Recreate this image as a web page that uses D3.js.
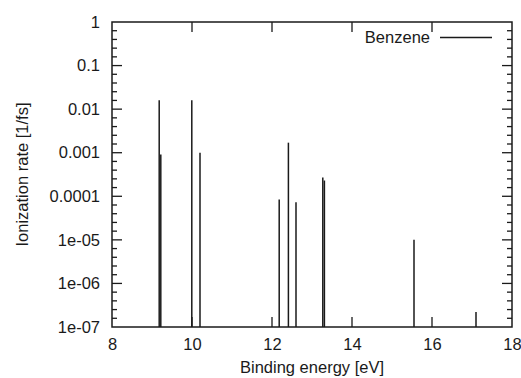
<!DOCTYPE html>
<html>
<head>
<meta charset="utf-8">
<script src="https://cdn.jsdelivr.net/npm/d3@7"></script>
<style>
  body { margin: 0; background: #fff; }
  text { font-family: "Liberation Sans", Arial, sans-serif; fill: #1a1a1a; }
</style>
</head>
<body>
<div class="chart"></div>
<script>
// 데이터
const energies = [9.18, 9.22, 9.995, 10.2, 12.18, 12.41, 12.6, 13.27, 13.31, 15.55, 17.1];
const rates = [0.016, 0.00091, 0.016, 0.001, 8.4e-5, 0.0017, 7.3e-5, 2.7e-4, 2.3e-4, 1.0e-5, 2.2e-7];
const xTicks = [8, 10, 12, 14, 16, 18];
const yTicks = [1, 0.1, 0.01, 0.001, 0.0001, 1e-5, 1e-6, 1e-7];
const yTickLabels = ["1", "0.1", "0.01", "0.001", "0.0001", "1e-05", "1e-06", "1e-07"];
const seriesName = "Benzene";

const W = 521, H = 378;
const Margin = {top: 22, bottom: 51, left: 112, right: 9};
const ink = "#1a1a1a";

const svg = d3.select(".chart").append("svg")
  .attr("width", W)
  .attr("height", H);

const x = d3.scaleLinear().domain([8, 18]).range([Margin.left, W - Margin.right]);
const y = d3.scaleLog().domain([1e-7, 1]).range([H - Margin.bottom, Margin.top]);

// 보조 눈금 (한 decade 를 5등분)
const minor = [];
for (let k = -7; k < 0; k++) {
  [0.2, 0.4, 0.6, 0.8].forEach(f => minor.push(Math.pow(10, k + f)));
}

const fs = "16.5px";

// 아래/왼쪽 축
const xAxis = d3.axisBottom(x).tickValues(xTicks).tickSize(0).tickPadding(11).tickFormat(d3.format("d"));
svg.append("g")
  .attr("transform", `translate(0,${H - Margin.bottom})`)
  .call(xAxis)
  .call(g => g.select(".domain").remove())
  .call(g => g.selectAll("text").style("font-size", fs).attr("fill", ink));

const yAxis = d3.axisLeft(y).tickValues(yTicks).tickSize(0).tickPadding(12)
  .tickFormat((d, i) => yTickLabels[i]);
svg.append("g")
  .attr("transform", `translate(${Margin.left},0)`)
  .call(yAxis)
  .call(g => g.select(".domain").remove())
  .call(g => g.selectAll("text").style("font-size", fs).attr("fill", ink));

// 눈금 선 (gnuplot 처럼 네 변 모두)
const tk = svg.append("g").attr("stroke", ink).attr("stroke-width", 1.3);
const x0 = Margin.left, x1 = W - Margin.right, y0 = H - Margin.bottom, y1 = Margin.top;
xTicks.slice(1, -1).forEach(v => {
  tk.append("line").attr("x1", x(v)).attr("x2", x(v)).attr("y1", y0).attr("y2", y0 - 10);
  tk.append("line").attr("x1", x(v)).attr("x2", x(v)).attr("y1", y1).attr("y2", y1 + 10);
});
yTicks.slice(1, -1).forEach(v => {
  tk.append("line").attr("x1", x0).attr("x2", x0 + 10).attr("y1", y(v)).attr("y2", y(v));
  tk.append("line").attr("x1", x1).attr("x2", x1 - 10).attr("y1", y(v)).attr("y2", y(v));
});
minor.forEach(v => {
  tk.append("line").attr("x1", x0).attr("x2", x0 + 5).attr("y1", y(v)).attr("y2", y(v));
  tk.append("line").attr("x1", x1).attr("x2", x1 - 5).attr("y1", y(v)).attr("y2", y(v));
});

// 막대 (impulses)
svg.append("g")
  .selectAll("line")
  .data(energies)
  .join("line")
    .attr("x1", d => x(d))
    .attr("x2", d => x(d))
    .attr("y1", y(1e-7))
    .attr("y2", (d, i) => y(rates[i]))
    .attr("stroke", ink)
    .attr("stroke-width", 1.5);

// 테두리
svg.append("rect")
  .attr("x", x0).attr("y", y1)
  .attr("width", x1 - x0).attr("height", y0 - y1)
  .attr("fill", "none").attr("stroke", ink).attr("stroke-width", 1.5);

// 범례
svg.append("text")
  .attr("x", 430).attr("y", 43)
  .attr("text-anchor", "end")
  .style("font-size", fs)
  .text(seriesName);
svg.append("line")
  .attr("x1", 440).attr("x2", 492).attr("y1", 37.5).attr("y2", 37.5)
  .attr("stroke", ink).attr("stroke-width", 1.5);

// 축 제목
svg.append("text")
  .attr("x", (x0 + x1) / 2).attr("y", 373)
  .attr("text-anchor", "middle")
  .style("font-size", fs)
  .text("Binding energy [eV]");
svg.append("text")
  .attr("transform", `translate(28,${(y0 + y1) / 2}) rotate(-90)`)
  .attr("text-anchor", "middle")
  .style("font-size", fs)
  .text("Ionization rate [1/fs]");
</script>
</body>
</html>
